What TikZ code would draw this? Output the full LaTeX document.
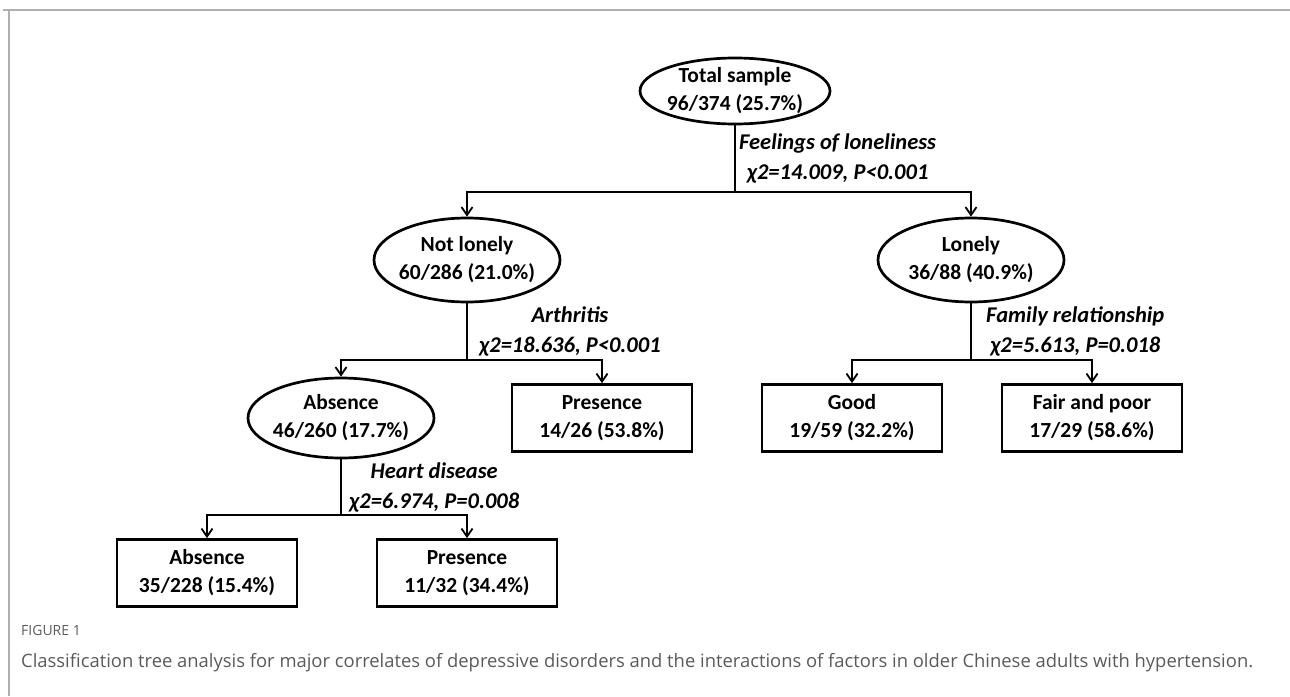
\documentclass[tikz,border=0pt]{standalone}
\usepackage{fontspec}
\setmainfont{Carlito}
\newfontfamily\captionfont{Open Sans}
\usetikzlibrary{arrows.meta, shapes.geometric, positioning, calc}
\tikzset{
    ellipsenode/.style = {draw, ellipse, line width=2.7pt, inner xsep=-20pt, inner ysep=-12pt, node distance=0em,
      minimum width=186pt, font=\bfseries\fontsize{21.5}{28}\selectfont},
    rectanglenode/.style = {draw, rectangle, line width=2.7pt, inner sep=0pt, node distance=0em,
      minimum width=180pt, minimum height=67pt, font=\bfseries\fontsize{21.5}{28}\selectfont},
    splitnode/.style = {draw=none, fill=none, inner sep=0pt, anchor=west,
      font=\bfseries\itshape\fontsize{22.5}{30}\selectfont},
    captionnode/.style = {draw=none, inner sep=0pt, anchor=west, text=captiongray},
    branch/.style = {black, line width=1.8pt},
    connect/.style = {black, line width=1.8pt, -{Straight Barb[length=8pt, width=11pt]}},
    every text node part/.style={align=center}
}
\definecolor{framegray}{RGB}{175, 175, 175}
\definecolor{captiongray}{RGB}{90, 90, 90}

\begin{document}
\begin{tikzpicture}[x=1pt, y=1pt, node distance=0em]
\useasboundingbox (0,0) rectangle (1290,-696);
\draw[framegray, line width=1.5pt] (3,-10) -- (1290,-10);
\draw[framegray, line width=1.5pt] (9,-10) -- (9,-696);

\node[ellipsenode, name=total, minimum width=190pt, minimum height=66pt] at (735,-91) {Total sample\\96/374 (25.7\%)};

\node[ellipsenode, name=notlonely, below of = total, xshift=-268pt, yshift=-169pt,
	minimum height=84pt] {Not lonely\\60/286 (21.0\%)};
\node[ellipsenode, name=lonely, below of = total, xshift=236pt, yshift=-169pt,
	minimum height=84pt] {Lonely\\36/88 (40.9\%)};

\node[ellipsenode, name=absence1, below of = notlonely, xshift=-126pt, yshift=-158pt,
	minimum height=80pt] {Absence\\46/260 (17.7\%)};
\node[rectanglenode, name=presence1, below of = notlonely, xshift=135pt, yshift=-158pt] {Presence\\14/26 (53.8\%)};

\node[rectanglenode, name=good, below of = lonely, xshift=-119pt, yshift=-158pt] {Good\\19/59 (32.2\%)};
\node[rectanglenode, name=fairpoor, below of = lonely, xshift=121pt, yshift=-158pt] {Fair and poor\\17/29 (58.6\%)};

\node[rectanglenode, name=absence2, below of = absence1, xshift=-134pt, yshift=-155pt] {Absence\\35/228 (15.4\%)};
\node[rectanglenode, name=presence2, below of = absence1, xshift=126pt, yshift=-155pt] {Presence\\11/32 (34.4\%)};

% branch points
\coordinate[below of = total, yshift=-101pt] (j1);
\coordinate[below of = notlonely, yshift=-100pt] (j2);
\coordinate[below of = lonely, yshift=-100pt] (j3);
\coordinate[below of = absence1, yshift=-97pt] (j4);

\draw[branch] (total.south) -- (j1);
\draw[connect] (j1) -| (notlonely.north);
\draw[connect] (j1) -| (lonely.north);

\draw[branch] (notlonely.south) -- (j2);
\draw[connect] (j2) -| (absence1.north);
\draw[connect] (j2) -| (presence1.north);

\draw[branch] (lonely.south) -- (j3);
\draw[connect] (j3) -| (good.north);
\draw[connect] (j3) -| (fairpoor.north);

\draw[branch] (absence1.south) -- (j4);
\draw[connect] (j4) -| (absence2.north);
\draw[connect] (j4) -| (presence2.north);

% split labels
\node[splitnode, name=split1] at ($(total.south)!0.5!(j1)+(4pt,0pt)$) {Feelings of loneliness\\χ2=14.009, P<0.001};
\node[splitnode, name=split2] at ($(notlonely.south)!0.5!(j2)+(12pt,0pt)$) {Arthritis\\χ2=18.636, P<0.001};
\node[splitnode, name=split3] at ($(lonely.south)!0.5!(j3)+(15pt,0pt)$) {Family relationship\\χ2=5.613, P=0.018};
\node[splitnode, name=split4] at ($(absence1.south)!0.5!(j4)+(8pt,0pt)$) {Heart disease\\χ2=6.974, P=0.008};

% caption
\node[captionnode, name=figlabel, font=\captionfont\fontsize{14}{16}\selectfont] at (21,-630) {FIGURE 1};
\node[captionnode, name=figcaption, font=\captionfont\fontsize{18.4}{22}\selectfont] at (21,-663) {Classification tree analysis for major correlates of depressive disorders and the interactions of factors in older Chinese adults with hypertension.};
\end{tikzpicture}
\end{document}
